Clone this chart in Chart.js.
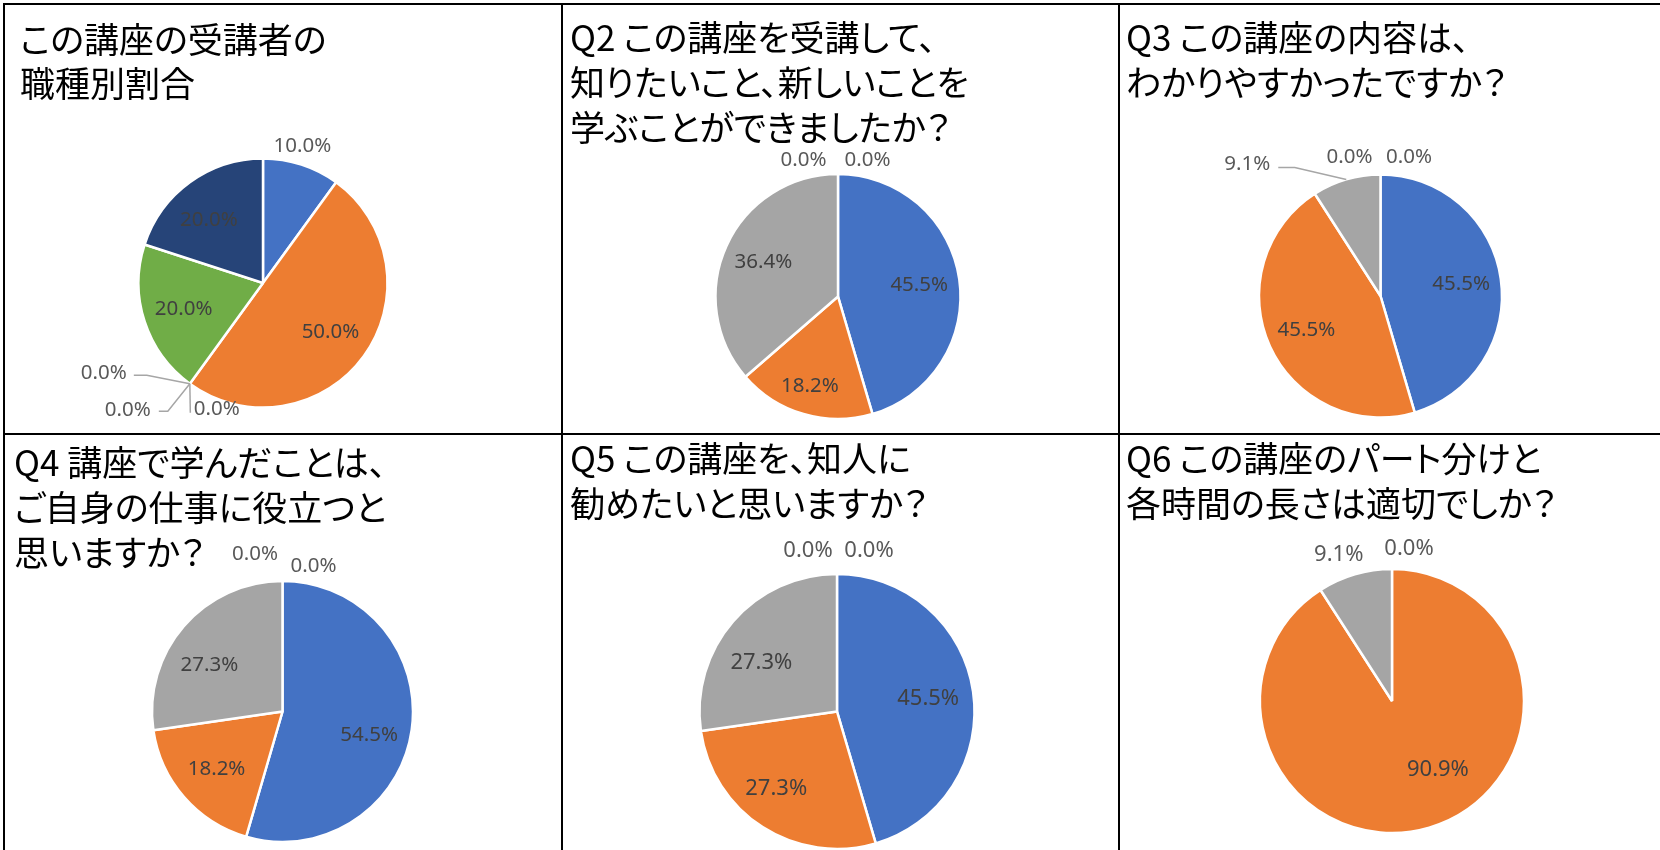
<!DOCTYPE html>
<html lang="ja">
<head>
<meta charset="utf-8">
<title>講座アンケート集計</title>
<script src="https://cdn.jsdelivr.net/npm/chart.js@4.4.1/dist/chart.umd.min.js"></script>
<style>
  html, body { margin: 0; padding: 0; background: #fff; }
  body { width: 1660px; height: 850px; position: relative; overflow: hidden; }
  .cell {
    position: absolute;
    box-sizing: border-box;
    border-left: 2px solid #000;
    border-top: 2px solid #000;
  }
  .cell canvas { position: absolute; left: 0; top: 0; }
  .cell h2 {
    position: absolute;
    margin: 0;
    font-family: "Noto Sans CJK JP", sans-serif;
    font-feature-settings: "palt";
    font-weight: normal;
    font-size: 35px;
    line-height: 45px;
    color: #000;
    white-space: nowrap;
    z-index: 1;
  }
</style>
</head>
<body>

<div class="cell" style="left:3px; top:3px; width:558px; height:430px;">
  <h2 id="t1" style="left:15px; top:11px; line-height:44px;"></h2>
  <canvas id="pie1" width="556" height="428"></canvas>
</div>
<div class="cell" style="left:561px; top:3px; width:557px; height:430px;">
  <h2 id="t2" style="left:7px; top:8px;"></h2>
  <canvas id="pie2" width="555" height="428"></canvas>
</div>
<div class="cell" style="left:1118px; top:3px; width:542px; height:430px;">
  <h2 id="t3" style="left:6px; top:8px;"></h2>
  <canvas id="pie3" width="540" height="428"></canvas>
</div>
<div class="cell" style="left:3px; top:433px; width:558px; height:417px;">
  <h2 id="t4" style="left:9px; top:3px;"></h2>
  <canvas id="pie4" width="556" height="415"></canvas>
</div>
<div class="cell" style="left:561px; top:433px; width:557px; height:417px;">
  <h2 id="t5" style="left:7px; top:-1px;"></h2>
  <canvas id="pie5" width="555" height="415"></canvas>
</div>
<div class="cell" style="left:1118px; top:433px; width:542px; height:417px;">
  <h2 id="t6" style="left:6px; top:-1px;"></h2>
  <canvas id="pie6" width="540" height="415"></canvas>
</div>

<script>
// Answer categories
const jobLabels = ['区分1', '区分2', '区分3', '区分4', '区分5', '区分6', '区分7'];
const answerLabels = ['区分1', '区分2', '区分3', '区分4', '区分5'];
const q6Labels = ['区分1', '区分2', '区分3'];

// Share of answers in percent
const jobShare = [10.0, 50.0, 0.0, 0.0, 0.0, 20.0, 20.0];
const q2Values = [45.5, 18.2, 36.4, 0.0, 0.0];
const q3Values = [45.5, 45.5, 9.1, 0.0, 0.0];
const q4Values = [54.5, 18.2, 27.3, 0.0, 0.0];
const q5Values = [45.5, 27.3, 27.3, 0.0, 0.0];
const q6Values = [0.0, 90.9, 9.1];

// Panel titles, one entry per line
const title1 = ['この講座の受講者の', '職種別割合'];
const title2 = ['Q2 この講座を受講して、', '知りたいこと、新しいことを', '学ぶことができましたか？'];
const title3 = ['Q3 この講座の内容は、', 'わかりやすかったですか？'];
const title4 = ['Q4 講座で学んだことは、', 'ご自身の仕事に役立つと', '思いますか？'];
const title5 = ['Q5 この講座を、知人に', '勧めたいと思いますか？'];
const title6 = ['Q6 この講座のパート分けと', '各時間の長さは適切でしか？'];

const officeColors = ['#4472C4', '#ED7D31', '#A5A5A5', '#FFC000', '#5B9BD5', '#70AD47', '#264478'];

// Draws "xx.x%" on each slice; slices listed in `outside` get their label
// placed beyond the rim (optionally with a leader line)
const pieLabels = {
    id: 'pieLabels',
    afterDatasetsDraw(chart, args, opts) {
        const ctx = chart.ctx;
        const meta = chart.getDatasetMeta(0);
        const values = chart.data.datasets[0].data;
        ctx.save();
        ctx.font = opts.size + 'px "Noto Sans", sans-serif';
        ctx.textAlign = 'center';
        ctx.textBaseline = 'middle';
        meta.data.forEach((arc, i) => {
            const p = arc.getProps(['x', 'y', 'startAngle', 'endAngle', 'outerRadius'], true);
            const mid = (p.startAngle + p.endAngle) / 2;
            const text = values[i].toFixed(1) + '%';
            const out = (opts.outside || {})[i];
            if (out) {
                const ax = p.x + Math.cos(mid) * p.outerRadius;
                const ay = p.y + Math.sin(mid) * p.outerRadius;
                if (out.leader) {
                    ctx.strokeStyle = '#A6A6A6';
                    ctx.lineWidth = 1.5;
                    ctx.beginPath();
                    ctx.moveTo(ax, ay);
                    out.leader.forEach(pt => ctx.lineTo(ax + pt[0], ay + pt[1]));
                    ctx.stroke();
                }
                ctx.fillStyle = '#595959';
                ctx.fillText(text, ax + out.dx, ay + out.dy);
            } else {
                const nudge = (opts.nudge || {})[i] || [0, 0];
                const r = p.outerRadius * 0.67;
                ctx.fillStyle = '#404040';
                ctx.fillText(text, p.x + Math.cos(mid) * r + nudge[0], p.y + Math.sin(mid) * r + nudge[1]);
            }
        });
        ctx.restore();
    }
};

function makePie(id, labels, values, cx, cy, radius, labelOpts) {
    const canvas = document.getElementById(id);
    const w = canvas.width, h = canvas.height;
    return new Chart(canvas, {
        type: 'pie',
        data: {
            labels: labels,
            datasets: [{
                data: values,
                backgroundColor: officeColors.slice(0, values.length),
                borderColor: '#FFFFFF',
                borderWidth: 2.5,
                radius: radius
            }]
        },
        options: {
            responsive: false,
            animation: false,
            events: [],
            layout: {
                padding: { left: cx - radius, right: w - cx - radius, top: cy - radius, bottom: h - cy - radius }
            },
            plugins: {
                legend: { display: false },
                tooltip: { enabled: false },
                pieLabels: labelOpts
            }
        },
        plugins: [pieLabels]
    });
}

function setTitle(id, lines) {
    const el = document.getElementById(id);
    lines.forEach((line, i) => {
        if (i) el.appendChild(document.createElement('br'));
        el.appendChild(document.createTextNode(line));
    });
}

document.addEventListener('DOMContentLoaded', function() {
    setTitle('t1', title1);
    setTitle('t2', title2);
    setTitle('t3', title3);
    setTitle('t4', title4);
    setTitle('t5', title5);
    setTitle('t6', title6);

    makePie('pie1', jobLabels, jobShare, 258, 278, 124.5, {
        size: 20.5,
        outside: {
            0: { dx: 1, dy: -18 },
            2: { dx: -86, dy: -11, leader: [[-43, -8.5], [-56, -8.5]] },
            3: { dx: -62, dy: 26, leader: [[-22, 27.5], [-31, 27.5]] },
            4: { dx: 27, dy: 25, leader: [[0.5, 29]] }
        },
        nudge: { 6: [-5, 5] }
    });
    makePie('pie2', answerLabels, q2Values, 275, 291.5, 122.5, {
        size: 20.5,
        outside: { 3: { dx: -34.5, dy: -14 }, 4: { dx: 29.5, dy: -14 } },
        nudge: { 1: [-5, 11] }
    });
    makePie('pie3', answerLabels, q3Values, 260.5, 291, 121.5, {
        size: 20.5,
        outside: {
            2: { dx: -99, dy: -15, leader: [[-51.5, -12], [-68, -12]] },
            3: { dx: -31, dy: -17 },
            4: { dx: 28.5, dy: -17 }
        }
    });
    makePie('pie4', answerLabels, q4Values, 277.5, 276.5, 130.5, {
        size: 20.5,
        outside: { 3: { dx: -27.5, dy: -26.5 }, 4: { dx: 31, dy: -14.5 } },
        nudge: { 0: [0, 11], 2: [-7, 11] }
    });
    makePie('pie5', answerLabels, q5Values, 274, 276.5, 137.5, {
        size: 22,
        outside: { 3: { dx: -29, dy: -23 }, 4: { dx: 32, dy: -23 } },
        nudge: { 1: [-11, 0], 2: [-6, 12] }
    });
    makePie('pie6', q6Labels, q6Values, 272, 266, 132, {
        size: 22,
        outside: { 0: { dx: 17, dy: -20 }, 2: { dx: -16, dy: -20 } },
        nudge: { 1: [21, -16] }
    });
});
</script>
</body>
</html>
